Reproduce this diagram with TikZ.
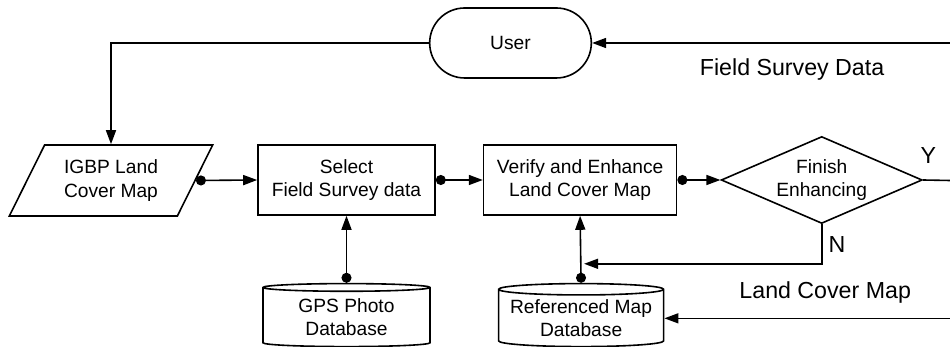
\documentclass[tikz,border=0pt]{standalone}
\usepackage{fontspec}
\setmainfont{Liberation Sans}
\usetikzlibrary{shapes.geometric, shapes.misc, arrows.meta, positioning, calc}
\tikzset{
  proc/.style={rectangle, draw=black, line width=0.8pt, align=center,
               minimum height=35pt, inner sep=1pt, font=\fontsize{9.6}{11.6}\selectfont},
  data/.style={trapezium, trapezium left angle=60, trapezium right angle=120,
               trapezium stretches, draw=black, line width=0.8pt, align=center,
               minimum width=102pt, minimum height=35.5pt, inner sep=1pt,
               font=\fontsize{9.6}{11.6}\selectfont},
  terminal/.style={rounded rectangle, draw=black, line width=0.8pt,
               minimum width=87.5pt, minimum height=35pt, font=\fontsize{9.6}{11.6}\selectfont},
  decision/.style={diamond, draw=black, line width=0.8pt, align=center, aspect=2.3,
               minimum width=100.5pt, minimum height=43.5pt, inner sep=0pt,
               font=\fontsize{9.6}{11.6}\selectfont},
  storage/.style={cylinder, shape border rotate=90, draw=black, line width=0.8pt,
               aspect=0.08, align=center, minimum height=31.5pt, inner sep=0pt,
               font=\fontsize{9.6}{11.6}\selectfont},
  arrow/.style={-{Triangle[length=7pt,width=5pt]}, line width=0.8pt},
  dotarrow/.style={{Circle[length=5pt]}-{Triangle[length=7pt,width=5pt]}, line width=0.8pt},
  lbl/.style={font=\fontsize{11.6}{13.9}\selectfont, inner sep=0pt},
}
\begin{document}
\begin{tikzpicture}[x=0.5pt, y=0.5pt]
  \useasboundingbox (0,0) rectangle (950,347);

  % Top row
  \node[terminal] (user) at (510.5,304) {User};

  % Main row
  \node[data] (igbp) at (111,166.5) {IGBP Land\\Cover Map};
  \node[proc, minimum width=88.5pt] (select) at (346.5,167) {Select\\Field Survey data};
  \node[proc, minimum width=96.5pt, right=23.5pt of select] (verify) {Verify and Enhance\\Land Cover Map};
  \node[decision, right=21.5pt of verify] (finish) {Finish\\Enhancing};

  % Databases
  \node[storage, minimum width=83.5pt, below=33.5pt of select] (gps) {GPS Photo\\Database};
  \node[storage, minimum width=82.5pt, below=33.5pt of verify, xshift=0.5pt] (refdb) {Referenced Map\\Database};

  % Loose ends at the right border
  \coordinate (fsdin) at (950,304);
  \coordinate (yout) at (950,166.5);
  \coordinate (lcmin) at (refdb.east -| yout);
  \coordinate (nturn) at ($(verify.south)+(0,-48)$);

  % Arrows
  \draw[arrow] (fsdin) -- node[lbl, below=7.5pt, xshift=10.5pt]{Field Survey Data} (user.east);
  \draw[arrow] (user.west) -| (igbp.north -| igbp.center);
  \draw[dotarrow] (igbp.east) -- (select.west);
  \draw[dotarrow] (select.east) -- (verify.west);
  \draw[dotarrow] (verify.east) -- (finish.west);
  \draw[line width=0.8pt] (finish.east) -- node[lbl, above, pos=0.2, yshift=8pt]{Y} (yout);
  \draw[arrow, shorten >=2pt] (finish.south) -- node[lbl, right, pos=0.5, xshift=3pt]{N} (finish.south |- nturn) -- (nturn);
  \draw[dotarrow] (gps.north) -- (select.south);
  \draw[dotarrow] (refdb.north) -- (verify.south);
  \draw[arrow] (lcmin) -- node[lbl, above=7pt, xshift=9pt]{Land Cover Map} (refdb.east);

\end{tikzpicture}
\end{document}
